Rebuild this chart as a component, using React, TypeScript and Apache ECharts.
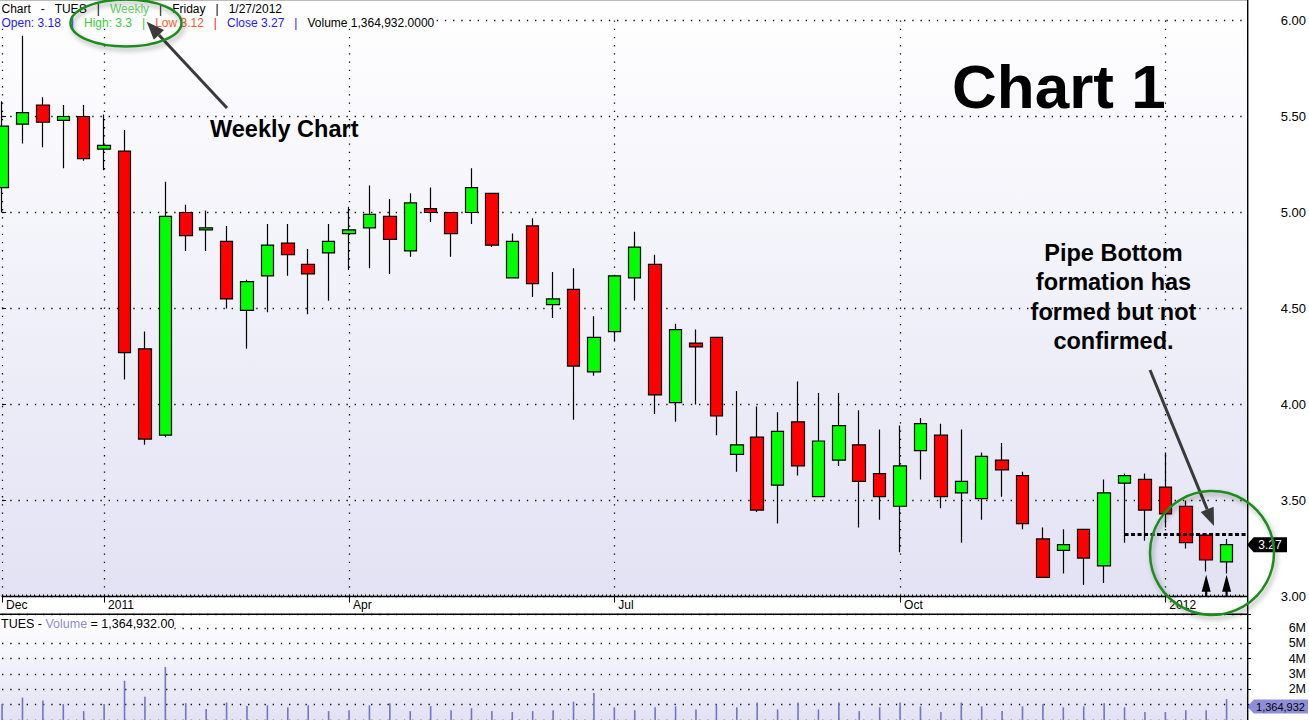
import React, { useEffect, useRef } from 'react';
import * as echarts from 'echarts';

// Weekly bars (Friday dates)
const weeks = [
  '2010-12-03', '2010-12-10', '2010-12-17', '2010-12-24', '2010-12-31',
  '2011-01-07', '2011-01-14', '2011-01-21', '2011-01-28',
  '2011-02-04', '2011-02-11', '2011-02-18', '2011-02-25',
  '2011-03-04', '2011-03-11', '2011-03-18', '2011-03-25',
  '2011-04-01', '2011-04-08', '2011-04-15', '2011-04-22', '2011-04-29',
  '2011-05-06', '2011-05-13', '2011-05-20', '2011-05-27',
  '2011-06-03', '2011-06-10', '2011-06-17', '2011-06-24',
  '2011-07-01', '2011-07-08', '2011-07-15', '2011-07-22', '2011-07-29',
  '2011-08-05', '2011-08-12', '2011-08-19', '2011-08-26',
  '2011-09-02', '2011-09-09', '2011-09-16', '2011-09-23', '2011-09-30',
  '2011-10-07', '2011-10-14', '2011-10-21', '2011-10-28',
  '2011-11-04', '2011-11-11', '2011-11-18', '2011-11-25',
  '2011-12-02', '2011-12-09', '2011-12-16', '2011-12-23', '2011-12-30',
  '2012-01-06', '2012-01-13', '2012-01-20', '2012-01-27',
];

const opens = [
  5.13, 5.46, 5.56, 5.48, 5.50, 5.33, 5.32, 4.29, 3.84, 5.00,
  4.91, 4.85, 4.49, 4.67, 4.84, 4.73, 4.79, 4.89, 4.92, 4.98,
  4.80, 5.02, 5.00, 5.00, 5.10, 4.66, 4.93, 4.52, 4.60, 4.17,
  4.38, 4.66, 4.73, 4.01, 4.32, 4.35, 3.74, 3.83, 3.58, 3.91,
  3.52, 3.71, 3.79, 3.64, 3.47, 3.76, 3.84, 3.54, 3.51, 3.71,
  3.63, 3.30, 3.24, 3.35, 3.16, 3.59, 3.61, 3.57, 3.47, 3.32,
  3.18,
];
const closes = [
  5.45, 5.52, 5.47, 5.50, 5.28, 5.35, 4.27, 3.82, 4.98, 4.88,
  4.92, 4.55, 4.64, 4.83, 4.78, 4.68, 4.85, 4.91, 4.99, 4.86,
  5.05, 5.00, 4.89, 5.13, 4.83, 4.85, 4.63, 4.55, 4.20, 4.35,
  4.67, 4.82, 4.05, 4.39, 4.30, 3.94, 3.79, 3.45, 3.86, 3.68,
  3.81, 3.89, 3.60, 3.52, 3.68, 3.90, 3.52, 3.60, 3.73, 3.66,
  3.38, 3.10, 3.27, 3.20, 3.54, 3.63, 3.45, 3.43, 3.28, 3.19,
  3.27,
];
const lows = [
  5.00, 5.36, 5.34, 5.23, 5.27, 5.22, 4.13, 3.79, 3.83, 4.80,
  4.80, 4.50, 4.29, 4.48, 4.67, 4.47, 4.54, 4.70, 4.71, 4.68,
  4.77, 4.95, 4.77, 4.94, 4.82, 4.66, 4.56, 4.45, 3.92, 4.15,
  4.33, 4.54, 3.95, 3.91, 4.00, 3.84, 3.65, 3.44, 3.38, 3.63,
  3.52, 3.68, 3.36, 3.40, 3.23, 3.61, 3.46, 3.28, 3.40, 3.52,
  3.35, 3.10, 3.12, 3.06, 3.07, 3.28, 3.29, 3.36, 3.25, 3.13,
  3.12,
];
const highs = [
  5.58, 5.92, 5.60, 5.56, 5.56, 5.51, 5.43, 4.38, 5.16, 5.04,
  5.01, 4.93, 4.65, 4.94, 4.94, 4.81, 4.94, 5.03, 5.14, 5.07,
  5.10, 5.13, 5.00, 5.23, 5.10, 4.89, 4.97, 4.69, 4.71, 4.46,
  4.67, 4.90, 4.78, 4.42, 4.39, 4.35, 4.07, 3.99, 3.96, 4.12,
  4.06, 4.06, 3.97, 3.87, 3.89, 3.93, 3.90, 3.87, 3.75, 3.80,
  3.65, 3.36, 3.35, 3.35, 3.61, 3.64, 3.64, 3.75, 3.50, 3.32,
  3.30,
];
// weekly volume, in shares
const volumes = [
  1040000, 1460000, 1270000, 1040000, 580000, 1040000, 2560000, 1520000, 3460000, 1100000,
  710000, 1140000, 910000, 960000, 830000, 960000, 580000, 640000, 960000, 1100000,
  580000, 910000, 640000, 770000, 580000, 520000, 580000, 640000, 1200000, 1770000,
  830000, 640000, 830000, 890000, 690000, 1000000, 830000, 1140000, 690000, 1140000,
  690000, 1140000, 580000, 830000, 1140000, 890000, 520000, 1140000, 890000, 580000,
  890000, 1040000, 830000, 890000, 1100000, 830000, 520000, 520000, 640000, 640000,
  1364932,
];

const axisLabels: Record<string, string> = {
  '2010-12-03': 'Dec',
  '2011-01-07': '2011',
  '2011-04-01': 'Apr',
  '2011-07-01': 'Jul',
  '2011-10-07': 'Oct',
  '2012-01-06': '2012',
};

const pipeLevel = 3.325;
const lastClose = 3.27;
const lastVolume = 1364932;
const arrowWeeks = ['2012-01-20', '2012-01-27'];
const pipeStartWeek = '2011-12-23';

const FONT = '"Liberation Sans", Arial, Helvetica, sans-serif';

export default function App() {
  const ref = useRef<HTMLDivElement>(null);

  useEffect(() => {
    if (!ref.current) return;
    const chart = echarts.init(ref.current, null, { renderer: 'svg' });

    const cats = [...weeks, ''];
    const labelIdx = new Set<number>();
    cats.forEach((c, i) => {
      if (axisLabels[c]) labelIdx.add(i);
    });
    const candleData = weeks.map((_, i) => [opens[i], closes[i], lows[i], highs[i]]);
    const lastIdx = weeks.length - 1;
    const padIdx = cats.length - 1;
    const arrowY = 3.056;

    const L = 2.08;
    const R = 61.3;
    const dotted = { color: '#000', width: 1.3, type: [1.3, 6.9] as any };

    const bgGrad = () =>
      new echarts.graphic.LinearGradient(0, 0, 0, 1, [
        { offset: 0, color: '#FFFFFF' },
        { offset: 1, color: '#E2E2F4' },
      ]);

    const arrowColor = '#3a3a3a';
    const green = '#1E8C1E';

    const option: any = {
      animation: false,
      backgroundColor: '#FFFFFF',
      textStyle: { fontFamily: FONT },
      grid: [
        { left: L, right: R, top: 20.5, height: 576 },
        { left: L, right: R, top: 614.3, height: 110.4 },
      ],
      xAxis: [
        {
          type: 'category',
          gridIndex: 0,
          data: cats,
          boundaryGap: false,
          position: 'bottom',
          axisLine: { show: true, lineStyle: { color: '#000', width: 1.3 } },
          axisTick: {
            show: true,
            interval: (i: number) => labelIdx.has(i),
            length: 6,
            lineStyle: { color: '#000', width: 1 },
          },
          axisLabel: {
            show: true,
            interval: (i: number) => labelIdx.has(i),
            formatter: (v: string) => axisLabels[v] || '',
            align: 'left',
            margin: 2,
            padding: [0, 0, 0, 4],
            color: '#000',
            fontSize: 12,
            fontFamily: FONT,
          },
          splitLine: {
            show: true,
            interval: (i: number) => labelIdx.has(i),
            lineStyle: dotted,
          },
        },
        {
          type: 'category',
          gridIndex: 1,
          data: cats,
          boundaryGap: false,
          show: false,
        },
        {
          type: 'value',
          gridIndex: 0,
          min: 0,
          max: padIdx,
          interval: 1,
          position: 'bottom',
          axisLine: { show: false },
          axisLabel: { show: false },
          splitLine: { show: false },
          axisTick: { show: true, inside: true, length: 2, lineStyle: { color: '#000', width: 1 } },
          minorTick: { show: true, splitNumber: 5, length: 2, lineStyle: { color: '#000', width: 1 } },
        },
      ],
      yAxis: [
        {
          type: 'value',
          gridIndex: 0,
          position: 'right',
          min: 3,
          max: 6,
          interval: 0.5,
          axisLine: { show: false },
          axisTick: { show: true, length: 4, lineStyle: { color: '#000' } },
          axisLabel: {
            formatter: (v: number) => v.toFixed(2),
            align: 'right',
            margin: 59,
            color: '#000',
            fontSize: 13,
            fontFamily: FONT,
          },
          splitLine: { show: true, lineStyle: dotted },
        },
        {
          type: 'value',
          gridIndex: 1,
          position: 'right',
          min: 0,
          max: 6900000,
          interval: 1000000,
          axisLine: { show: false },
          axisTick: { show: true, length: 4, lineStyle: { color: '#000' } },
          axisLabel: {
            formatter: (v: number) => (v >= 2000000 && v <= 6000000 ? `${Math.round(v / 1000000)}M` : ''),
            align: 'right',
            margin: 59,
            color: '#000',
            fontSize: 12.5,
            fontFamily: FONT,
          },
          splitLine: { show: true, lineStyle: dotted },
        },
      ],
      series: [
        {
          type: 'candlestick',
          xAxisIndex: 0,
          yAxisIndex: 0,
          data: candleData,
          barWidth: 13,
          clip: false,
          itemStyle: {
            color: '#00FF00',
            color0: '#FF0000',
            borderColor: '#000',
            borderColor0: '#000',
            borderColorDoji: '#000',
            borderWidth: 1.2,
          },
          markLine: {
            silent: true,
            symbol: ['none', 'none'],
            label: { show: false },
            lineStyle: { color: '#000', width: 3, type: [4, 2.5] },
            data: [
              [
                { coord: [weeks.indexOf(pipeStartWeek), pipeLevel] },
                { coord: [padIdx, pipeLevel] },
              ],
            ],
          },
          markPoint: {
            silent: true,
            data: [
              ...arrowWeeks.map((w) => ({
                coord: [weeks.indexOf(w), arrowY],
                symbol: 'path://M4.5,0 L9,17 L5.6,17 L5.6,22 L3.4,22 L3.4,17 L0,17 Z',
                symbolSize: [9, 22],
                itemStyle: { color: '#000' },
                label: { show: false },
              })),
              {
                coord: [padIdx, lastClose],
                symbol: 'path://M0,7 L7,0 L42,0 L42,14 L7,14 Z',
                symbolSize: [40, 15],
                symbolOffset: [20, 0],
                itemStyle: { color: '#000' },
                label: {
                  show: true,
                  position: 'inside',
                  formatter: lastClose.toFixed(2),
                  color: '#fff',
                  fontSize: 12,
                  fontFamily: FONT,
                  offset: [3, 0],
                },
              },
            ],
          },
        },
        {
          type: 'bar',
          xAxisIndex: 1,
          yAxisIndex: 1,
          data: volumes,
          barWidth: 1.6,
          itemStyle: { color: '#7474C4' },
          markPoint: {
            silent: true,
            data: [
              {
                coord: [lastIdx + 1, lastVolume],
                symbol: 'path://M0,7 L7,0 L62,0 L62,14 L7,14 Z',
                symbolSize: [61, 14],
                symbolOffset: [30.5, 7.5],
                itemStyle: { color: '#8E8ED8' },
                label: {
                  show: true,
                  position: 'inside',
                  formatter: lastVolume.toLocaleString('en-US'),
                  color: '#000',
                  fontSize: 11,
                  fontFamily: FONT,
                  offset: [3, 0],
                },
              },
            ],
          },
        },
      ],
      graphic: {
        elements: [
          // panel backgrounds
          { type: 'rect', z: -10, shape: { x: 0, y: 0, width: 1248, height: 597 }, style: { fill: bgGrad() } },
          { type: 'rect', z: -10, shape: { x: 0, y: 614, width: 1248, height: 106 }, style: { fill: bgGrad() } },
          { type: 'line', z: 50, shape: { x1: 0, y1: 0.5, x2: 1248, y2: 0.5 }, style: { stroke: '#bbbbbb', lineWidth: 1 } },
          { type: 'line', z: 50, shape: { x1: 0, y1: 614.3, x2: 1248, y2: 614.3 }, style: { stroke: '#000', lineWidth: 1.4 } },
          { type: 'line', z: 50, shape: { x1: 1247.7, y1: 0, x2: 1247.7, y2: 720 }, style: { stroke: '#000', lineWidth: 1.4 } },
          // header lines
          {
            type: 'text',
            z: 60,
            x: 1.5,
            y: 8.5,
            style: {
              text: '{k|Chart   -   TUES   |   }{g|Weekly}{k|   |   Friday   |   1/27/2012}',
              font: `12px ${FONT}`,
              verticalAlign: 'middle',
              backgroundColor: '#FEFEFF',
              rich: {
                k: { fill: '#000', font: `12px ${FONT}` },
                g: { fill: '#5FCF5F', font: `12px ${FONT}` },
              },
            },
          },
          {
            type: 'text',
            z: 60,
            x: 1.5,
            y: 22.5,
            style: {
              text:
                '{b|Open: 3.18   |   }{g|High: 3.3   |   }{o|Low 3.12   }{r||   }{b|Close 3.27   |   }{k|Volume 1,364,932.0000}',
              font: `12px ${FONT}`,
              verticalAlign: 'middle',
              backgroundColor: '#FEFEFF',
              rich: {
                b: { fill: '#1A1AFF', font: `12px ${FONT}` },
                g: { fill: '#3CCB3C', font: `12px ${FONT}` },
                o: { fill: '#FF5A28', font: `12px ${FONT}` },
                r: { fill: '#FF2020', font: `12px ${FONT}` },
                k: { fill: '#000', font: `12px ${FONT}` },
              },
            },
          },
          {
            type: 'text',
            z: 60,
            x: 1,
            y: 624,
            style: {
              text: '{k|TUES - }{v|Volume}{k| = 1,364,932.00}',
              font: `12.5px ${FONT}`,
              verticalAlign: 'middle',
              backgroundColor: '#FFFFFF',
              rich: {
                k: { fill: '#000', font: `12.5px ${FONT}` },
                v: { fill: '#8C8CD0', font: `12.5px ${FONT}` },
              },
            },
          },
          // annotations
          {
            type: 'text',
            z: 100,
            x: 952,
            y: 86.5,
            style: { text: 'Chart 1', font: `bold 62px ${FONT}`, fill: '#000', verticalAlign: 'middle' },
          },
          {
            type: 'text',
            z: 100,
            x: 210,
            y: 129,
            style: { text: 'Weekly Chart', font: `bold 23.5px ${FONT}`, fill: '#000', verticalAlign: 'middle' },
          },
          {
            type: 'text',
            z: 100,
            x: 1113.5,
            y: 297,
            style: {
              text: 'Pipe Bottom\nformation has\nformed but not\nconfirmed.',
              font: `bold 23.5px ${FONT}`,
              fill: '#000',
              align: 'center',
              verticalAlign: 'middle',
              lineHeight: 29.2,
            },
          },
          // arrow to the "Weekly" label
          { type: 'line', z: 100, shape: { x1: 227, y1: 108, x2: 158.9, y2: 34.9 }, style: { stroke: arrowColor, lineWidth: 3 } },
          {
            type: 'polygon',
            z: 100,
            shape: { points: [[146.7, 21.7], [164.0, 30.1], [153.8, 39.7]] },
            style: { fill: arrowColor },
          },
          // arrow to the pipe bottom
          { type: 'line', z: 100, shape: { x1: 1150, y1: 370, x2: 1207.2, y2: 509.4 }, style: { stroke: arrowColor, lineWidth: 3 } },
          {
            type: 'polygon',
            z: 100,
            shape: { points: [[1214, 526], [1213.7, 506.7], [1200.7, 512.1]] },
            style: { fill: arrowColor },
          },
          // green highlight shapes
          {
            type: 'ellipse',
            z: 100,
            shape: { cx: 126, cy: 23, rx: 55.5, ry: 23.5 },
            style: {
              fill: 'none',
              stroke: green,
              lineWidth: 2.5,
              shadowBlur: 5,
              shadowColor: 'rgba(0,0,0,0.35)',
              shadowOffsetX: 2,
              shadowOffsetY: 3,
            },
          },
          {
            type: 'circle',
            z: 100,
            shape: { cx: 1212, cy: 553, r: 62 },
            style: {
              fill: 'none',
              stroke: green,
              lineWidth: 2.5,
              shadowBlur: 5,
              shadowColor: 'rgba(0,0,0,0.35)',
              shadowOffsetX: 2,
              shadowOffsetY: 3,
            },
          },
        ],
      },
    };

    chart.setOption(option);
    return () => {
      chart.dispose();
    };
  }, []);

  return (
    <div
      ref={ref}
      style={{ position: 'fixed', left: 0, top: 0, width: 1309, height: 720, background: '#fff' }}
    />
  );
}
